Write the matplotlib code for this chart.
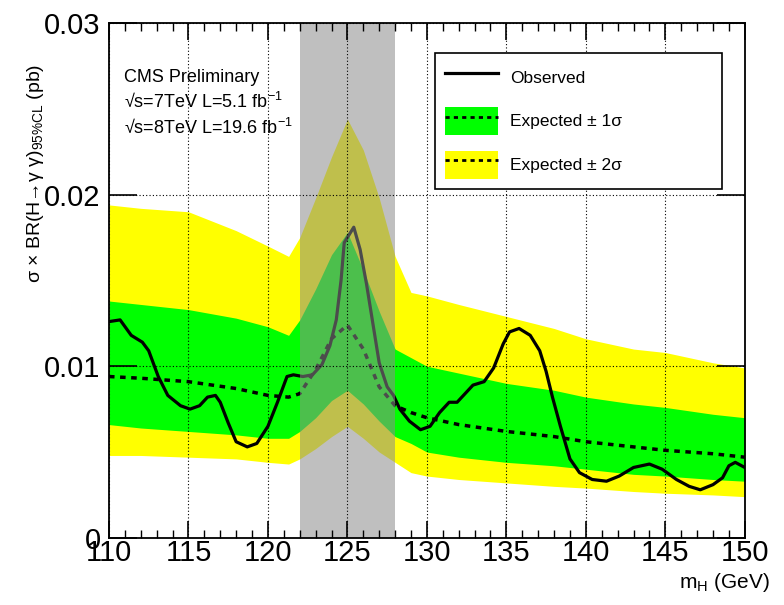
import matplotlib
matplotlib.use("Agg")
import matplotlib.pyplot as plt
from matplotlib.patches import Patch
from matplotlib.lines import Line2D
from matplotlib.ticker import MultipleLocator

plt.rcParams['font.family'] = ['Liberation Sans', 'DejaVu Sans']
plt.rcParams['mathtext.fontset'] = 'custom'
plt.rcParams['mathtext.rm'] = 'Liberation Sans'
plt.rcParams['mathtext.it'] = 'Liberation Sans:italic'

# expected limit bands
mass = [110, 112, 115, 118, 120, 121.3, 122, 123, 124, 125, 126, 127, 128,
        129, 130, 132, 135, 138, 140, 143, 145, 148, 150]
exp_median = [.0094, .0093, .0091, .0087, .0083, .0082, .0084, .0098, .0116, .0124,
              .0110, .0088, .0077, .0073, .0070, .0066, .0062, .0059, .0056, .0053,
              .0051, .0049, .0047]
exp_p1 = [.0138, .0136, .0133, .0128, .0123, .0118, .0127, .0145, .0165, .0178,
          .0156, .0132, .0110, .0105, .0100, .0096, .0090, .0086, .0082, .0078,
          .0076, .0072, .0070]
exp_m1 = [.0066, .0064, .0062, .0060, .0058, .0058, .0062, .0070, .0080, .0086,
          .0078, .0068, .0059, .0055, .0050, .0047, .0044, .0042, .0040, .0037,
          .0036, .0034, .0033]
exp_p2 = [.0194, .0192, .0190, .0179, .0170, .0164, .0175, .0198, .0222, .0244,
          .0226, .0198, .0164, .0143, .0141, .0136, .0129, .0122, .0116, .0110,
          .0108, .0102, .0099]
exp_m2 = [.0048, .0048, .0047, .0046, .0044, .0043, .0046, .0052, .0059, .0065,
          .0058, .0050, .0044, .0038, .0036, .0034, .0032, .0030, .0029, .0027,
          .0026, .0025, .0024]

# observed limit
obs_mass = [110.0, 110.7, 111.4, 112.1, 112.5, 113.1, 113.7, 114.5, 115.1, 115.7,
            116.2, 116.7, 117.0, 117.5, 118.0, 118.7, 119.3, 120.0, 120.6, 121.2,
            121.6, 122.2, 122.8, 123.4, 123.9, 124.3, 124.6, 124.8, 125.0, 125.4,
            125.8, 126.2, 126.6, 127.0, 127.5, 127.9, 128.3, 128.9, 129.6, 130.2,
            130.8, 131.4, 131.9, 132.9, 133.6, 134.2, 134.8, 135.2, 135.8, 136.5,
            137.1, 137.5, 137.9, 138.4, 139.0, 139.6, 140.4, 141.3, 142.1, 143.0,
            144.0, 144.8, 145.7, 146.5, 147.2, 148.0, 148.6, 149.0, 149.4, 150.0]
obs_limit = [.0126, .0127, .0118, .0114, .0109, .0094, .0083, .0077, .0075, .0077,
             .0082, .0083, .0079, .0067, .0056, .0053, .0055, .0065, .0079, .0094,
             .0095, .0094, .0095, .0101, .0112, .0127, .0150, .0172, .0175, .0181,
             .0168, .0148, .0125, .0102, .0088, .0083, .0075, .0068, .0063, .0065,
             .0073, .0079, .0079, .0089, .0091, .0099, .0113, .0120, .0122, .0118,
             .0109, .0097, .0082, .0065, .0046, .0038, .0034, .0033, .0036, .0041,
             .0043, .0040, .0034, .0030, .0028, .0031, .0035, .0042, .0044, .0041]

band_lo, band_hi = 122, 128

fig = plt.figure(figsize=(7.84, 6.05), dpi=100)
ax = fig.add_axes([0.139, 0.111, 0.811, 0.851])

ax.fill_between(mass, exp_m2, exp_p2, color='#ffff00', lw=0, zorder=1)
ax.fill_between(mass, exp_m1, exp_p1, color='#00ff00', lw=0, zorder=1.1)
ax.plot(mass, exp_median, color='black', lw=2.5, ls=(0, (1.6, 1.6)), zorder=2)
ax.plot(obs_mass, obs_limit, color='black', lw=2.3, zorder=2.1)
ax.axvspan(band_lo, band_hi, color='#8c8c8c', alpha=0.55, lw=0, zorder=2.2)

ax.set_xlim(110, 150)
ax.set_ylim(0, 0.03)
ax.xaxis.set_major_locator(MultipleLocator(5))
ax.xaxis.set_minor_locator(MultipleLocator(1))
ax.set_yticks([0, 0.01, 0.02, 0.03])
ax.set_yticklabels(['0', '0.01', '0.02', '0.03'])
ax.set_axisbelow(False)
ax.grid(True, which='major', color='black', ls=(0, (1, 2)), lw=0.8)
ax.tick_params(which='both', direction='in', top=True, right=True, labelsize=21)
ax.tick_params(axis='x', which='major', length=12, width=1.2, pad=1)
ax.tick_params(axis='x', which='minor', length=6, width=1.0)
ax.tick_params(axis='y', which='major', length=20, width=1.2, pad=6)
for s in ax.spines.values():
    s.set_linewidth(1.3)
    s.set_zorder(5)

fig.text(0.045, 0.895, r"σ × BR(H→γ γ)$_{\mathregular{95\%CL}}$ (pb)", rotation=90,
         ha='center', va='top', fontsize=14)
fig.text(770 / 784, 1 - 583 / 605, r"m$_{\mathregular{H}}$ (GeV)", ha='right',
         va='center', fontsize=15)

fig.text(124 / 784, 1 - 78 / 605, "CMS Preliminary", fontsize=13, va='center')
fig.text(124 / 784, 1 - 102 / 605, r"√s=7TeV L=5.1 fb$^{\mathregular{-1}}$",
         fontsize=13, va='center')
fig.text(124 / 784, 1 - 128 / 605, r"√s=8TeV L=19.6 fb$^{\mathregular{-1}}$",
         fontsize=13, va='center')

h_obs = Line2D([], [], color='black', lw=2.3)
h_1s = (Patch(facecolor='#00ff00', lw=0),
        Line2D([], [], color='black', lw=2, ls=(0, (1.5, 1.5))))
h_2s = (Patch(facecolor='#ffff00', lw=0),
        Line2D([], [], color='black', lw=2, ls=(0, (1.5, 1.5))))
leg = ax.legend([h_obs, h_1s, h_2s], ["Observed", "Expected ± 1σ", "Expected ± 2σ"],
                loc='upper left',
                bbox_to_anchor=(435 / 784, 1 - 204 / 605, 287 / 784, 151 / 605),
                bbox_transform=fig.transFigure, mode='expand', fontsize=12.5,
                fancybox=False, framealpha=1, edgecolor='black', borderpad=0.6,
                handlelength=3.0, handleheight=2.1, labelspacing=0.9,
                handletextpad=0.7, borderaxespad=0)
leg.get_frame().set_linewidth(1.2)
leg.set_zorder(6)

fig.savefig("out.png", dpi=100)
